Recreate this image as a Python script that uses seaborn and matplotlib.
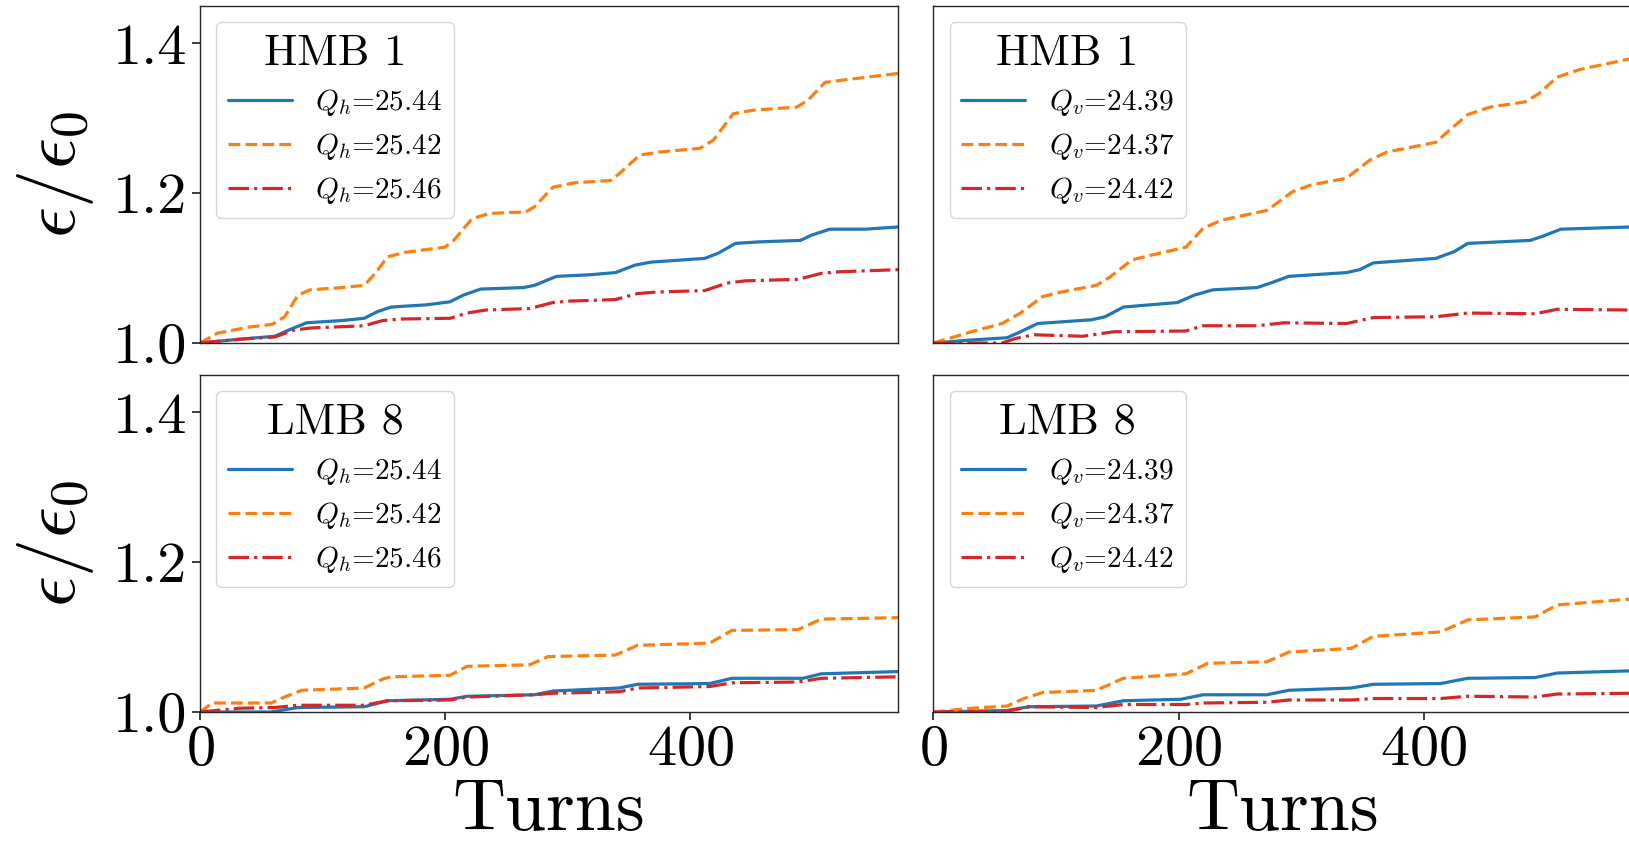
import matplotlib
matplotlib.use("Agg")
import matplotlib.pyplot as plt
import seaborn as sns

# ---- emittance growth curves, epsilon/epsilon_0 versus turn number ----
# HMB 1, horizontal tunes
hmb1_qh2544_turns = [0, 32, 61, 72, 87, 116, 134, 145, 156, 185, 204, 215, 229, 264, 273, 291, 317, 339,
                     355, 368, 412, 423, 437, 456, 490, 499, 514, 543, 570]
hmb1_qh2544_eps = [1.000, 1.005, 1.009, 1.017, 1.027, 1.030, 1.033, 1.042, 1.048, 1.051, 1.055, 1.064,
                   1.072, 1.074, 1.077, 1.089, 1.091, 1.094, 1.104, 1.108, 1.113, 1.120, 1.133, 1.135,
                   1.137, 1.144, 1.152, 1.152, 1.155]
hmb1_qh2542_turns = [0, 14, 39, 59, 69, 80, 90, 116, 134, 143, 153, 167, 200, 207, 222, 236, 266, 273,
                     288, 306, 335, 342, 359, 375, 408, 419, 435, 452, 487, 496, 510, 529, 570]
hmb1_qh2542_eps = [1.000, 1.013, 1.021, 1.025, 1.035, 1.064, 1.071, 1.074, 1.077, 1.093, 1.115, 1.121,
                   1.128, 1.137, 1.166, 1.173, 1.175, 1.182, 1.208, 1.214, 1.217, 1.226, 1.251, 1.255,
                   1.260, 1.271, 1.306, 1.311, 1.315, 1.324, 1.348, 1.352, 1.360]
hmb1_qh2546_turns = [0, 32, 61, 76, 90, 134, 149, 164, 204, 218, 233, 269, 288, 302, 339, 357, 372,
                     412, 430, 445, 488, 507, 521, 570]
hmb1_qh2546_eps = [1.000, 1.005, 1.008, 1.017, 1.020, 1.023, 1.030, 1.032, 1.033, 1.040, 1.044, 1.046,
                   1.054, 1.056, 1.058, 1.066, 1.068, 1.070, 1.080, 1.083, 1.085, 1.093, 1.095, 1.098]

# HMB 1, vertical tunes
hmb1_qv2439_turns = [0, 31, 60, 71, 85, 129, 140, 155, 199, 213, 228, 264, 275, 290, 337, 348, 359,
                     410, 425, 436, 487, 498, 512, 570]
hmb1_qv2439_eps = [1.000, 1.004, 1.007, 1.015, 1.026, 1.031, 1.035, 1.048, 1.054, 1.064, 1.071, 1.074,
                   1.080, 1.089, 1.094, 1.098, 1.107, 1.113, 1.122, 1.133, 1.137, 1.143, 1.152, 1.155]
hmb1_qv2437_turns = [0, 31, 56, 71, 89, 104, 133, 144, 162, 177, 206, 220, 235, 272, 293, 308, 337,
                     356, 370, 410, 421, 436, 454, 483, 494, 509, 527, 570]
hmb1_qv2437_eps = [1.000, 1.015, 1.026, 1.040, 1.062, 1.068, 1.077, 1.088, 1.111, 1.117, 1.128, 1.153,
                   1.164, 1.177, 1.202, 1.211, 1.220, 1.244, 1.255, 1.268, 1.284, 1.305, 1.315, 1.322,
                   1.333, 1.355, 1.365, 1.380]
hmb1_qv2442_turns = [0, 56, 67, 82, 122, 147, 206, 220, 264, 286, 337, 359, 410, 436, 491, 509, 570]
hmb1_qv2442_eps = [1.000, 1.000, 1.006, 1.011, 1.009, 1.015, 1.016, 1.023, 1.023, 1.027, 1.026, 1.034,
                   1.035, 1.040, 1.039, 1.045, 1.044]

# LMB 8, horizontal tunes
lmb8_qh2544_turns = [0, 58, 80, 134, 153, 204, 218, 273, 288, 342, 357, 416, 434, 492, 507, 570]
lmb8_qh2544_eps = [1.000, 1.000, 1.006, 1.007, 1.015, 1.017, 1.021, 1.023, 1.028, 1.032, 1.037, 1.038,
                   1.045, 1.045, 1.051, 1.054]
lmb8_qh2542_turns = [0, 10, 58, 69, 83, 134, 149, 156, 204, 218, 269, 284, 339, 357, 416, 434, 488,
                     507, 570]
lmb8_qh2542_eps = [1.000, 1.012, 1.012, 1.020, 1.029, 1.032, 1.044, 1.047, 1.049, 1.061, 1.063, 1.074,
                   1.076, 1.089, 1.092, 1.109, 1.110, 1.124, 1.126]
lmb8_qh2546_turns = [0, 32, 61, 80, 134, 153, 204, 218, 273, 288, 342, 357, 416, 434, 488, 507, 570]
lmb8_qh2546_eps = [1.000, 1.005, 1.006, 1.009, 1.009, 1.015, 1.016, 1.020, 1.023, 1.025, 1.027, 1.032,
                   1.034, 1.039, 1.040, 1.045, 1.047]

# LMB 8, vertical tunes
lmb8_qv2439_turns = [0, 60, 78, 133, 155, 202, 220, 272, 290, 341, 359, 414, 436, 491, 509, 570]
lmb8_qv2439_eps = [1.000, 1.002, 1.007, 1.008, 1.015, 1.017, 1.023, 1.023, 1.029, 1.032, 1.037, 1.038,
                   1.045, 1.046, 1.052, 1.055]
lmb8_qv2437_turns = [0, 31, 60, 74, 89, 133, 155, 206, 224, 272, 290, 341, 359, 414, 436, 491, 509, 570]
lmb8_qv2437_eps = [1.000, 1.005, 1.008, 1.018, 1.026, 1.029, 1.045, 1.051, 1.065, 1.067, 1.080, 1.085,
                   1.101, 1.107, 1.123, 1.127, 1.143, 1.151]
lmb8_qv2442_turns = [0, 60, 78, 133, 155, 206, 220, 272, 290, 341, 359, 414, 436, 491, 509, 570]
lmb8_qv2442_eps = [1.000, 1.001, 1.007, 1.006, 1.010, 1.010, 1.012, 1.013, 1.016, 1.016, 1.018, 1.018,
                   1.021, 1.020, 1.024, 1.025]

panel_titles = ["HMB 1", "HMB 1", "LMB 8", "LMB 8"]
h_labels = [r"$Q_h$=25.44", r"$Q_h$=25.42", r"$Q_h$=25.46"]
v_labels = [r"$Q_v$=24.39", r"$Q_v$=24.37", r"$Q_v$=24.42"]
x_ticks = [0, 200, 400]
y_ticks = [1.0, 1.2, 1.4]
y_tick_labels = ["1.0", "1.2", "1.4"]

colors = ["#1f77b4", "#ff7f0e", "#d62728"]
styles = ["-", "--", "-."]

panels = [
    [(hmb1_qh2544_turns, hmb1_qh2544_eps), (hmb1_qh2542_turns, hmb1_qh2542_eps), (hmb1_qh2546_turns, hmb1_qh2546_eps)],
    [(hmb1_qv2439_turns, hmb1_qv2439_eps), (hmb1_qv2437_turns, hmb1_qv2437_eps), (hmb1_qv2442_turns, hmb1_qv2442_eps)],
    [(lmb8_qh2544_turns, lmb8_qh2544_eps), (lmb8_qh2542_turns, lmb8_qh2542_eps), (lmb8_qh2546_turns, lmb8_qh2546_eps)],
    [(lmb8_qv2439_turns, lmb8_qv2439_eps), (lmb8_qv2437_turns, lmb8_qv2437_eps), (lmb8_qv2442_turns, lmb8_qv2442_eps)],
]
panel_labels = [h_labels, v_labels, h_labels, v_labels]

sns.set_theme(style="ticks")
plt.rcParams.update({
    "font.family": ["cmr10", "DejaVu Serif"],
    "mathtext.fontset": "cm",
    "axes.formatter.use_mathtext": True,
    "text.color": "black",
    "axes.labelcolor": "black",
    "axes.edgecolor": "0.15",
    "axes.linewidth": 1.0,
    "xtick.color": "0.15",
    "ytick.color": "0.15",
    "xtick.labelcolor": "black",
    "ytick.labelcolor": "black",
})

fig, axes = plt.subplots(
    2, 2, figsize=(16.29, 8.46), dpi=100, sharex=True, sharey=True,
    gridspec_kw=dict(left=0.1228, right=1.0018, top=0.9929, bottom=0.1584,
                     wspace=0.0501, hspace=0.095),
)

for idx, ax in enumerate(axes.flat):
    for (turns, eps), lab, col, ls in zip(panels[idx], panel_labels[idx], colors, styles):
        sns.lineplot(x=turns, y=eps, ax=ax, color=col, linestyle=ls, linewidth=2.3, label=lab)
    ax.legend(title=panel_titles[idx], loc="upper left", fontsize=21, title_fontsize=32,
              handlelength=2.2, labelspacing=0.45, borderaxespad=0.55, framealpha=0.8,
              edgecolor="0.8", fancybox=True)
    ax.set_xlim(0, 570)
    ax.set_ylim(1.0, 1.45)
    ax.set_xticks(x_ticks)
    ax.set_yticks(y_ticks)
    ax.set_yticklabels(y_tick_labels)
    ax.tick_params(labelsize=42)
    ax.set_xlabel("")
    ax.set_ylabel("")

for ax in axes[0]:
    ax.tick_params(axis="x", bottom=False)
for ax in axes[:, 1]:
    ax.tick_params(axis="y", left=False)
for ax in axes[:, 0]:
    ax.set_ylabel(r"$\epsilon/\epsilon_0$", fontsize=55, labelpad=12)
for ax in axes[1]:
    ax.set_xlabel("Turns", fontsize=53, labelpad=2)

fig.savefig("out.png", dpi=100)
